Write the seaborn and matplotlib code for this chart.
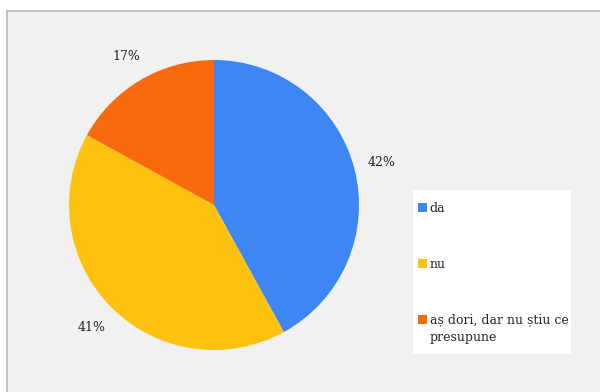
import matplotlib
matplotlib.use("Agg")
import matplotlib.pyplot as plt
from matplotlib.patches import Rectangle, Patch
from matplotlib.legend_handler import HandlerPatch
import seaborn as sns

# data
categories = ["da", "nu", "aș dori, dar nu știu ce\npresupune"]
shares = [42, 41, 17]
colors = ["#3d86f4", "#fcc20f", "#f96a0e"]

sns.set_theme(style="white")
plt.rcParams["font.family"] = ["DejaVu Serif", "DejaVu Sans"]

fig = plt.figure(figsize=(6, 3.92), dpi=100)
fig.patch.set_facecolor("white")

# grey chart panel with thin border
fig.add_artist(Rectangle((7 / 600, -0.01), 1.0, 381 / 392 + 0.01,
                         transform=fig.transFigure, facecolor="#f1f1f1",
                         edgecolor="#b9b9b9", linewidth=1.2, zorder=0))

ax = fig.add_axes([69 / 600, 42 / 392, 290 / 600, 290 / 392])
ax.set_facecolor("none")
wedges, texts, autotexts = ax.pie(
    shares, colors=colors, startangle=90, counterclock=False,
    autopct="%d%%", pctdistance=1.19,
    wedgeprops=dict(linewidth=0),
    textprops=dict(fontsize=9, color="#222222"))
ax.set_xlim(-1, 1)
ax.set_ylim(-1, 1)
ax.set_aspect("equal")
ax.axis("off")

# legend box
fig.add_artist(Rectangle((413 / 600, 1 - 354 / 392), 158 / 600, 164 / 392,
                         transform=fig.transFigure, facecolor="white",
                         edgecolor="none", zorder=1))


def top_line_square(legend, orig_handle, xdescent, ydescent, width, height, fontsize):
    # put the square next to the first line of a wrapped label
    n_lines = orig_handle.get_label().count("\n")
    shift = n_lines * fontsize * 0.75
    return Rectangle((-xdescent, -ydescent + shift), width, height)


handles = [Patch(facecolor=c, edgecolor="none", label=l) for c, l in zip(colors, categories)]
leg = fig.legend(handles, categories, loc="upper left",
                 bbox_to_anchor=(418 / 600, 1 - 202 / 392),
                 frameon=False, fontsize=9, handlelength=0.7,
                 handleheight=0.7, handletextpad=0.25, labelspacing=3.4,
                 borderpad=0, borderaxespad=0,
                 handler_map={Patch: HandlerPatch(patch_func=top_line_square)})
for t in leg.get_texts():
    t.set_linespacing(1.45)
leg.set_zorder(2)

fig.savefig("out.png", dpi=100)
